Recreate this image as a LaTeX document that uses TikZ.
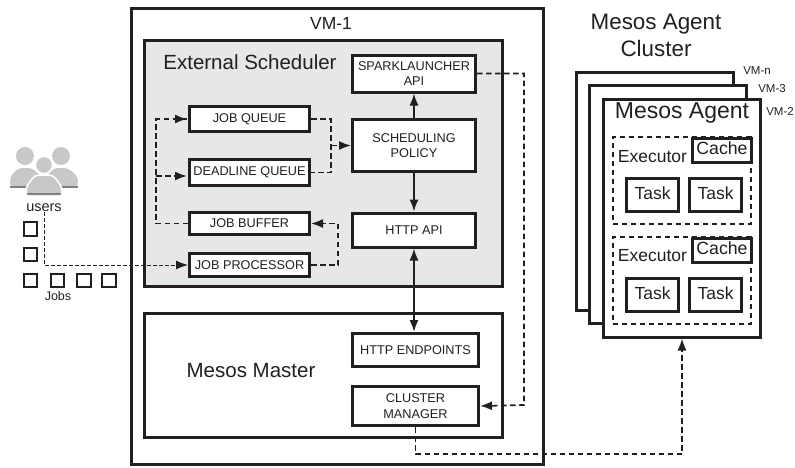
\documentclass[tikz,border=0pt]{standalone}
\usepackage{xcolor}
\usepackage{fontspec}
\setmainfont{Liberation Sans}
\usetikzlibrary{arrows.meta}
\usetikzlibrary{calc,positioning}
\definecolor{color1}{RGB}{230,231,233}
\definecolor{color2}{RGB}{35,31,32}
\definecolor{color3}{RGB}{199,200,202}
\definecolor{color4}{RGB}{128,129,132}
\tikzset{%
  >={Latex[width=9pt,length=12pt]},
  % Specifications for style of nodes:
  base/.style = {rectangle, draw=color2, line width=3pt, fill=white,
    inner sep=0pt, align=center, text=color2},
  smallbox/.style = {base, minimum width=120pt, font=\fontsize{12.7}{15.5}\selectfont},
  taskbox/.style = {base, minimum width=52pt, minimum height=33pt, text height=12.5pt, text depth=4pt, font=\fontsize{17.5}{20}\selectfont},
  cachebox/.style = {base, minimum width=59pt, minimum height=24pt, text height=12.5pt, text depth=4pt, font=\fontsize{17.7}{20}\selectfont},
  agentbox/.style = {base, minimum width=157pt, minimum height=238pt},
  panel/.style = {base, minimum width=358pt},
  title/.style = {inner sep=0pt, align=center, text=color2},
  jobbox/.style = {rectangle, draw=color2, line width=1.6pt, minimum size=13.5pt, inner sep=0pt},
  execbox/.style = {draw=color2, line width=1.3pt, dash pattern=on 5pt off 4pt, minimum width=138pt, minimum height=87pt, inner sep=0pt},
  solidline/.style = {color2, line width=1.6pt},
  dashline/.style = {color2, line width=1.7pt, dash pattern=on 5.5pt off 3.5pt},
  thinline/.style = {color2, line width=1pt, dash pattern=on 3.5pt off 2.5pt},
}

\begin{document}
\begin{tikzpicture}[x=1pt,y=-1pt,node distance=50pt]
        \useasboundingbox (0,0) rectangle (795,467);
        % Specification of nodes (position, etc.)
        \node(VMone)[base,minimum width=412pt,minimum height=456pt] at (337,236) {};
        \node(External)[panel,fill=color1,minimum height=246pt] at (323.5,163.5) {};
        \node(Master)[panel,minimum height=124pt] at (323.5,375.5) {};
        \node(VMtitle)[title,font=\fontsize{17.5}{20}\selectfont] at (331,23) {VM-1};
        \node(ExtTitle)[title,font=\fontsize{20.5}{23}\selectfont] at (250,62) {External Scheduler};
        \node(MasterTitle)[title,font=\fontsize{20.5}{23}\selectfont] at (251,371) {Mesos Master};

        % scheduler boxes
        \node(Spark)[smallbox,minimum width=123pt,minimum height=37pt] at (414,73.5) {SPARKLAUNCHER\\API};
        \node(Policy)[smallbox,minimum width=123pt,minimum height=52pt] at (414,145.5) {SCHEDULING\\POLICY};
        \node(HttpApi)[smallbox,minimum width=123pt,minimum height=34pt] at (414,230) {HTTP API};
        \node(Endpoints)[smallbox,minimum width=126pt,minimum height=33pt] at (415.5,350) {HTTP ENDPOINTS};
        \node(Manager)[smallbox,minimum width=126pt,minimum height=39pt] at (415.5,406) {CLUSTER\\MANAGER};

        \node(JobQueue)[smallbox,minimum height=25pt] at (249.5,119) {JOB QUEUE};
        \node(Deadline)[smallbox,minimum height=26pt,below of=JobQueue,yshift=-3.5pt] {DEADLINE QUEUE};
        \node(Buffer)[smallbox,minimum height=22pt,below of=Deadline,yshift=-1pt] {JOB BUFFER};
        \node(Processor)[smallbox,minimum height=23pt,below of=Buffer,yshift=8.5pt] {JOB PROCESSOR};

        % agent stack
        \node(AgentN)[agentbox] at (655,191) {};
        \node(AgentThree)[agentbox] at (668,204.5) {};
        \node(AgentTwo)[agentbox] at (682,218) {};
        \node(ClusterTitle)[title,font=\fontsize{22.4}{27}\selectfont] at (656,35.5) {Mesos Agent\\Cluster};
        \node(AgentTitle)[title,font=\fontsize{23}{25}\selectfont] at (682,113) {Mesos Agent};
        \node(LabelN)[title,font=\fontsize{11.5}{13}\selectfont] at (757,71) {VM-n};
        \node(LabelThree)[title,font=\fontsize{11.5}{13}\selectfont] at (772,89) {VM-3};
        \node(LabelTwo)[title,font=\fontsize{11.5}{13}\selectfont] at (780,111) {VM-2};

        \node(ExecOne)[execbox] at (682,180.5) {};
        \node(ExecTwo)[execbox] at (682,280.5) {};
        \node(ExecOneText)[title,font=\fontsize{17.5}{20}\selectfont] at (652.5,157) {Executor};
        \node(ExecTwoText)[title,font=\fontsize{17.5}{20}\selectfont] at (652.5,256) {Executor};
        \node(CacheOne)[cachebox] at (722,150.5) {Cache};
        \node(CacheTwo)[cachebox] at (722,250.5) {Cache};
        \node(TaskA)[taskbox] at (652.5,195) {Task};
        \node(TaskB)[taskbox,right of=TaskA,xshift=13pt] {Task};
        \node(TaskC)[taskbox] at (652.5,295) {Task};
        \node(TaskD)[taskbox,right of=TaskC,xshift=13pt] {Task};

        % users and jobs
        \foreach \px in {25,61} {
          \fill[color3] (\px,156) circle [radius=9pt];
          \fill[color3,rounded corners=4pt] (\px-15,187) -- (\px-15,177) -- (\px-7,168) -- (\px+7,168) -- (\px+17,177) -- (\px+17,187) -- cycle;
          \fill[color4] (\px-15,185.5) rectangle (\px+17,187.5);
        }
        \fill[color3,draw=white,line width=1.5pt,rounded corners=4pt] (26,196) -- (26,187) -- (35,175) -- (53,175) -- (62,187) -- (62,196) -- cycle;
        \fill[color4] (27,193) rectangle (61,195);
        \fill[color3,draw=white,line width=1.2pt] (44,165) circle [radius=8.5pt];
        \node(Users)[title,font=\fontsize{14.5}{16}\selectfont] at (44,208) {users};
        \node(JobA)[jobbox] at (30.5,229) {};
        \node(JobB)[jobbox] at (30.5,254.5) {};
        \node(JobC)[jobbox] at (30.5,280.5) {};
        \node(JobD)[jobbox] at (57.5,280.5) {};
        \node(JobE)[jobbox] at (84,280.5) {};
        \node(JobF)[jobbox] at (109,280.5) {};
        \node(JobsText)[title,font=\fontsize{12.5}{14}\selectfont] at (58,296) {Jobs};

        % connectors
        \coordinate (UserFoot) at (44,212);
        \draw[thinline,->] (UserFoot) |- (Processor.west);
        \draw[dashline,->] (Processor.east) -| ($(Processor.east)+(27,0)$) |- (Buffer.east);
        \draw[dashline] (Buffer.west) -| ($(JobQueue.west)+(-32,0)$) -- (JobQueue.west);
        \draw[dashline,->] ($(JobQueue.west)+(-14,0)$) -- ($(JobQueue.west)+(-1,0)$);
        \draw[dashline,->] ($(Deadline.west)+(-32,3.5)$) -- ($(Deadline.west)+(-1,3.5)$);
        \draw[dashline] (JobQueue.east) -| ($(JobQueue.east)+(20,0)$) |- (Deadline.east);
        \draw[dashline,->] ($(Policy.west)+(-20,0)$) -- (Policy.west);
        \draw[solidline,->] (Policy.north) -- (Spark.south);
        \draw[solidline,->] (Policy.south) -- (HttpApi.north);
        \draw[solidline,<->] (HttpApi.south) -- (HttpApi.south |- Endpoints.north);
        \draw[dashline,->] (Spark.east) -| (524,405) -- (Manager.east);
        \draw[dashline,->] (Manager.south) |- (682,454) -- (AgentTwo.south);
\end{tikzpicture}
\end{document}
